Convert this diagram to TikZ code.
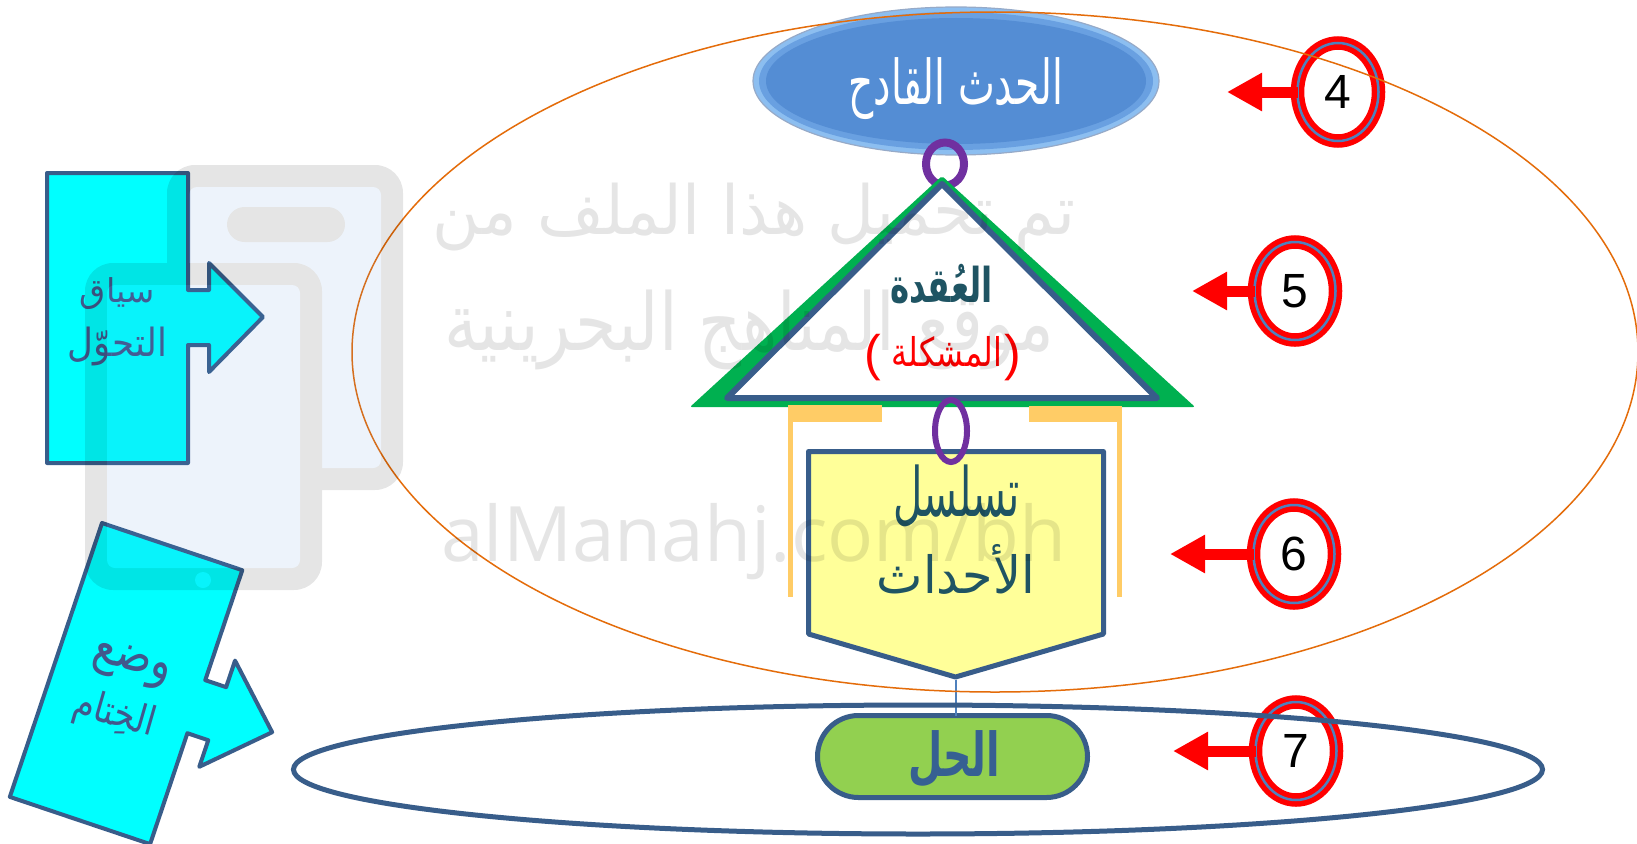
\documentclass[tikz,border=0pt]{standalone}
\usepackage{fontspec}
\usepackage{graphicx}
\setmainfont{Liberation Sans}
\newfontfamily\ar[Script=Arabic]{DejaVu Sans}
\newfontfamily\wmlat{Open Sans}
\usetikzlibrary{arrows.meta,shapes.geometric}
\TeXXeTstate=1
% Arabic text fitted to a given width and total height
\newcommand\arw[3]{\resizebox*{#1pt}{#2pt}{\ar\beginR #3\endR}}
\newcommand\arwb[3]{\resizebox*{#1pt}{#2pt}{\ar\bfseries\beginR #3\endR}}
\definecolor{navy}{RGB}{56,93,138}
\definecolor{txtnavy}{RGB}{66,88,140}
\definecolor{cyanf}{RGB}{0,255,255}
\definecolor{tealtxt}{RGB}{31,84,99}
\definecolor{grn}{RGB}{0,176,80}
\definecolor{purp}{RGB}{112,48,160}
\definecolor{yel}{RGB}{255,255,153}
\definecolor{brk}{RGB}{255,204,102}
\definecolor{pillg}{RGB}{146,208,80}
\definecolor{orng}{RGB}{228,108,10}
\definecolor{ringblue}{RGB}{79,129,189}
\definecolor{solblue}{RGB}{54,96,146}
\definecolor{rimA}{RGB}{140,190,240}
\definecolor{rimB}{RGB}{105,160,225}
\definecolor{rimline}{RGB}{150,170,200}
\definecolor{evblue}{RGB}{84,141,212}
\definecolor{wmin}{RGB}{85,145,225}
\begin{document}
\begin{tikzpicture}[x=1pt,y=-1pt,
  every node/.style={inner sep=0pt,outer sep=0pt},
  cyanshape/.style={fill=cyanf,draw=navy,line width=4pt,line join=round},
  ringst/.style={ellipse,draw=purp},
  numc/.style={ellipse,draw=red,double=ringblue,double distance=2.5pt,line width=5.5pt,
    fill=white,minimum width=81pt,minimum height=98pt,font=\fontsize{48}{48}\selectfont},
  redarr/.style={draw=red,line width=11pt,-{Triangle[length=35pt,width=36pt]}},
  pillst/.style={rectangle,rounded corners=41pt,draw=navy,line width=5pt,fill=pillg,
    minimum width=270pt,minimum height=82pt},
  conn/.style={draw=ringblue,line width=2pt}]
\useasboundingbox (0,0) rectangle (1637,843);
\fill[white] (0,0) rectangle (1637,843);

% left cyan shapes
\begin{scope}[shift={(47,173)}]
  \draw[cyanshape] (0,0) -- (141,0) -- (141,117) -- (162,117) -- (162,90) -- (216,144)
    -- (162,199) -- (162,172) -- (141,172) -- (141,290) -- (0,290) -- cycle;
  \node[text=txtnavy] (ctx1) at (70.5,121) {\arw{75}{32}{سياق}};
  \node[text=txtnavy] (ctx2) at (70.5,173) {\arw{99}{39}{التحوّل}};
\end{scope}
\begin{scope}[shift={(102,523)},rotate=-18.6]
  \draw[cyanshape] (0,0) -- (148,0) -- (148,116) -- (170,116) -- (170,88) -- (228,144)
    -- (170,200) -- (170,172) -- (148,172) -- (148,289) -- (0,289) -- cycle;
  \node[text=txtnavy,rotate=-16] (ctx3) at (73,125) {\arw{80}{36}{وضع}};
  \node[text=txtnavy,rotate=-16] (ctx4) at (73,178) {\arw{84}{40}{الخِتام}};
\end{scope}

% top ellipse
\fill[rimA,draw=rimline,line width=1.2pt] (956,81) ellipse [x radius=203,y radius=74];
\fill[rimB] (956,81) ellipse [x radius=197,y radius=69];
\fill[evblue] (956,81) ellipse [x radius=190,y radius=63];
\node[ellipse,minimum width=406pt,minimum height=148pt] (ev) at (956,81) {};
\node[text=white] (evt) at (956,89) {\arw{215}{62}{الحدث القادح}};

% ring 1
\node[ringst,line width=8pt,minimum width=38pt,minimum height=43pt] (r1) at (945,164) {};

% triangle
\fill[grn,rounded corners=2pt] (942,176) -- (1195,407) -- (690,407) -- cycle;
\draw[navy,line width=6pt,fill=white,line join=round] (942,184) -- (1157,398) -- (727,398) -- cycle;
\node[text=tealtxt] (knot) at (941.5,284) {\arwb{103}{39}{العُقدة}};
\node[text=red] (prob) at (947,352) {\arw{111}{31}{المشكلة}};
\node[text=red,font=\fontsize{50}{50}\selectfont] (lp) at (872.5,358) {(};
\node[text=red,font=\fontsize{50}{50}\selectfont] (rp) at (1013,358) {)};

% brackets
\fill[brk] (788,405) rectangle (882,422);
\draw[brk,line width=5pt] (790.5,410) -- (790.5,597);
\fill[brk] (1029,406) rectangle (1122,422);
\draw[brk,line width=5pt] (1119.5,410) -- (1119.5,597);

% pentagon
\draw[navy,line width=5pt,fill=yel,line join=round] (808.5,451.5) -- (1103.5,451.5) -- (1103.5,634)
  -- (955.5,677) -- (808.5,634) -- cycle;
\coordinate (seqtip) at (955.5,679.5);
\node[text=tealtxt] (seq1) at (956.5,496) {\arw{127}{62}{تسلسل}};
\node[text=tealtxt] (seq2) at (956,569) {\arw{158}{50}{الأحداث}};

% ring 2
\node[ringst,line width=6pt,minimum width=32pt,minimum height=62pt] (r2) at (951,431) {};

% solution pill
\node[pillst] (sol) at (952.5,756.5) {};
\node[text=solblue] (solt) at (954,759) {\arwb{92}{57}{الحل}};
\draw[conn] (seqtip) -- (seqtip |- sol.north);

% numbered circles and arrows
\node[numc] (c4) at (1338,92) {4};
\node[numc] (c5) at (1295,291) {5};
\node[numc] (c6) at (1294,554) {6};
\node[numc] (c7) at (1296,751) {7};
\coordinate (t4) at (1227,92);
\coordinate (t5) at (1192,291);
\coordinate (t6) at (1170,554);
\coordinate (t7) at (1173,751);
\draw[redarr] (c4) -- (t4);
\draw[redarr] (c5) -- (t5);
\draw[redarr] (c6) -- (t6);
\draw[redarr] (c7) -- (t7);

% grouping ellipses
\node[ellipse,draw=orng,line width=1.5pt,minimum width=1286pt,minimum height=680pt] (grp1) at (995,352) {};
\node[ellipse,draw=navy,line width=5pt,minimum width=1249pt,minimum height=129pt] (grp2) at (918,769.5) {};

% watermark
\begin{scope}[transparency group,opacity=0.1]
  \fill[black,rounded corners=28pt] (167,165) rectangle (403,490);
  \fill[wmin,rounded corners=8pt] (189,187) rectangle (381,468);
  \fill[black,rounded corners=17.5pt] (227,207) rectangle (345,242);
  \fill[black,rounded corners=28pt] (85,263) rectangle (322,590);
  \fill[wmin,rounded corners=8pt] (107,285) rectangle (300,568);
  \fill[wmin] (203,580) circle [radius=8];
  \node[text=black] (wm1) at (754,217) {\arw{642}{68}{تم تحميل هذا الملف من}};
  \node[text=black] (wm2) at (749,330) {\arw{610}{80}{موقع المناهج البحرينية}};
  \node[text=black] (wm3) at (754,542) {\resizebox{625pt}{!}{\wmlat alManahj.com/bh}};
\end{scope}
\end{tikzpicture}
\end{document}
